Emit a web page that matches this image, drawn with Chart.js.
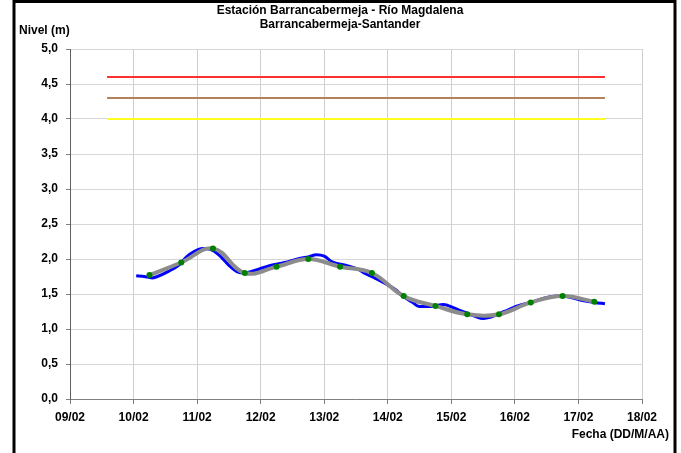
<!DOCTYPE html>
<html>
<head>
<meta charset="utf-8">
<script src="https://cdn.jsdelivr.net/npm/chart.js@4.4.1/dist/chart.umd.min.js"></script>
<style>
  body { margin: 0; background: #fff; }
  canvas { display: block; }
</style>
</head>
<body>
<canvas id="nivelChart" width="681" height="453"></canvas>
<script>
// Etiquetas del eje X (una por día, cada 24 h desde 09/02 00:00)
var tickLabels = ['09/02', '10/02', '11/02', '12/02', '13/02', '14/02', '15/02', '16/02', '17/02', '18/02'];

// Nivel observado (horas desde 09/02 00:00)
var blueHours = [25, 28, 31, 33, 37, 41, 44, 47, 50, 53, 57, 60, 63, 66,
                 70, 75, 81, 87, 90, 93, 96, 99, 104, 109, 111, 115,
                 119, 123, 126, 129, 132, 136, 141, 145, 149, 153, 156,
                 159, 164, 169, 174, 179, 184, 188, 193, 198, 202];
var blueLevels = [1.76, 1.75, 1.73, 1.75, 1.82, 1.91, 2.03, 2.11, 2.15, 2.14, 2.03, 1.91, 1.82, 1.80,
                  1.84, 1.90, 1.95, 2.01, 2.03, 2.06, 2.04, 1.96, 1.91, 1.85, 1.80, 1.73,
                  1.65, 1.56, 1.46, 1.39, 1.32, 1.32, 1.35, 1.30, 1.24, 1.18, 1.15,
                  1.17, 1.25, 1.33, 1.38, 1.44, 1.47, 1.46, 1.41, 1.38, 1.36];

// Nivel suavizado cada 12 h
var smoothHours = [30, 42, 54, 66, 78, 90, 102, 114, 126, 138, 150, 162, 174, 186, 198];
var smoothLevels = [1.77, 1.95, 2.15, 1.80, 1.89, 2.00, 1.89, 1.80, 1.47, 1.33, 1.21, 1.21, 1.38, 1.47, 1.39];

// Umbrales de alerta
var alertLevels = [4.6, 4.3, 4.0];
var alertColors = ['#ff3030', '#b4825a', '#ffff20'];
var alertRange = [14, 202];

function toPoints(xs, ys) {
    var pts = [];
    for (var i = 0; i < xs.length; i++) {
        pts.push({ x: xs[i], y: ys[i] });
    }
    return pts;
}

var datasets = [
    {
        label: 'Suavizado',
        data: toPoints(smoothHours, smoothLevels),
        borderColor: '#8c8c8c',
        borderWidth: 4,
        pointRadius: 3,
        pointBackgroundColor: '#008000',
        pointBorderColor: '#008000',
        pointBorderWidth: 0,
        tension: 0.4
    },
    {
        label: 'Nivel',
        data: toPoints(blueHours, blueLevels),
        borderColor: '#0000ff',
        borderWidth: 3,
        pointRadius: 0,
        cubicInterpolationMode: 'monotone'
    }
];

alertLevels.forEach(function(level, i) {
    datasets.push({
        label: 'Alerta ' + i,
        data: [{ x: alertRange[0], y: level }, { x: alertRange[1], y: level }],
        borderColor: alertColors[i],
        borderWidth: 2,
        pointRadius: 0
    });
});

// Marco y textos
var framePlugin = {
    id: 'framePlugin',
    afterDraw: function(chart) {
        var ctx = chart.ctx;
        ctx.save();
        ctx.fillStyle = '#000';
        ctx.font = 'bold 12px "Liberation Sans", Arial, sans-serif';
        ctx.textAlign = 'center';
        ctx.textBaseline = 'middle';
        ctx.fillText('Estación Barrancabermeja - Río Magdalena', 340, 11);
        ctx.fillText('Barrancabermeja-Santander', 340, 25);
        ctx.textAlign = 'left';
        ctx.fillText('Nivel (m)', 19, 31);
        ctx.textAlign = 'right';
        ctx.fillText('Fecha (DD/M/AA)', 669, 435);
        ctx.strokeStyle = '#000';
        ctx.lineWidth = 3;
        ctx.strokeRect(14, 1.5, 661, 460);
        ctx.restore();
    }
};

var ctx = document.getElementById('nivelChart').getContext('2d');
new Chart(ctx, {
    type: 'line',
    data: { datasets: datasets },
    options: {
        responsive: false,
        animation: false,
        devicePixelRatio: 1,
        layout: { padding: { left: 0, right: 39, top: 49, bottom: 0 } },
        plugins: {
            legend: { display: false },
            title: { display: false },
            tooltip: { enabled: false }
        },
        scales: {
            x: {
                type: 'linear',
                min: 0,
                max: 216,
                afterFit: function(scale) { scale.height = 54; },
                afterBuildTicks: function(scale) {
                    scale.ticks = tickLabels.map(function(t, i) { return { value: i * 24 }; });
                },
                ticks: {
                    autoSkip: false,
                    maxRotation: 0,
                    padding: 6,
                    color: '#000',
                    font: { family: '"Liberation Sans", Arial, sans-serif', size: 12, weight: 'bold' },
                    callback: function(value) { return tickLabels[Math.round(value / 24)]; }
                },
                grid: { color: '#cfcfcf', tickLength: 5, tickColor: '#808080' },
                border: { color: '#808080' }
            },
            y: {
                min: 0,
                max: 5,
                afterFit: function(scale) { scale.width = 70; },
                ticks: {
                    stepSize: 0.5,
                    padding: 8,
                    color: '#000',
                    font: { family: '"Liberation Sans", Arial, sans-serif', size: 12, weight: 'bold' },
                    callback: function(value) { return value.toFixed(1).replace('.', ','); }
                },
                grid: { color: '#d6d6d6', tickLength: 4, tickColor: '#808080' },
                border: { color: '#606060' }
            }
        }
    },
    plugins: [framePlugin]
});
</script>
</body>
</html>
